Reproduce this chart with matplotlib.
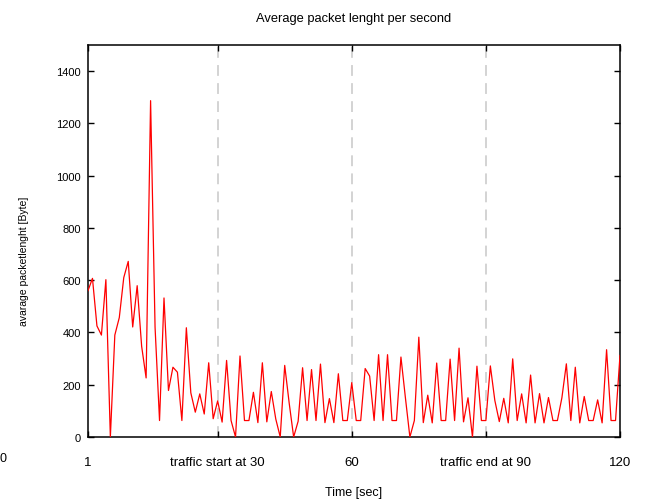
import matplotlib
matplotlib.use("Agg")
import matplotlib.pyplot as plt

plt.rcParams["font.family"] = ["Liberation Sans", "DejaVu Sans"]

# Seconds 1..120 and average packet length per second
seconds = list(range(1, 121))
avg_len = [
    560, 607, 425, 390, 602, 0, 390, 457, 610, 672,
    421, 579, 347, 226, 1287, 420, 63, 532, 178, 267,
    248, 63, 418, 169, 95, 165, 88, 284, 70, 138,
    57, 293, 63, 0, 310, 63, 63, 171, 55, 284,
    58, 174, 69, 0, 274, 130, 0, 60, 265, 63,
    258, 63, 279, 55, 147, 55, 242, 63, 63, 208,
    63, 63, 262, 233, 63, 315, 63, 315, 63, 63,
    306, 150, 0, 63, 382, 55, 160, 54, 283, 63,
    63, 298, 63, 340, 58, 150, 0, 271, 63, 63,
    272, 140, 59, 148, 54, 299, 63, 165, 54, 237,
    54, 166, 54, 151, 63, 63, 150, 280, 63, 267,
    54, 155, 63, 63, 142, 54, 334, 63, 63, 312,
]

x_ticks = [1, 30, 60, 90, 120]
x_tick_labels = ["1", "traffic start at 30", "60", "traffic end at 90", "120"]
y_ticks = [0, 200, 400, 600, 800, 1000, 1200, 1400]
markers = [30, 60, 90]

fig = plt.figure(figsize=(6.45, 5.02), dpi=100)
ax = fig.add_axes([88 / 645, 64 / 502, 532 / 645, 392 / 502])

for m in markers:
    ax.axvline(m, color="#d0d0d0", linewidth=1.3, dashes=(6, 4), zorder=1)

ax.plot(seconds, avg_len, color="red", linewidth=0.9, zorder=3)

ax.set_xlim(1, 120)
ax.set_ylim(0, 1500)
ax.set_xticks(x_ticks)
ax.set_xticklabels(x_tick_labels)
ax.set_yticks(y_ticks)

ax.tick_params(axis="both", direction="in", length=4, width=1,
               top=True, right=True)
ax.tick_params(axis="x", pad=14, labelsize=9.5)
ax.tick_params(axis="y", pad=5, labelsize=8)
for s in ax.spines.values():
    s.set_linewidth(1.1)

ax.set_xlabel("Time [sec]", fontsize=9, labelpad=13)
ax.set_ylabel("avarage packetlenght [Byte]", fontsize=7.5, labelpad=22)
ax.yaxis.set_label_coords(-0.11, 0.45)
ax.set_title("Average packet lenght per second", fontsize=9.25, pad=17)

# stray clipped label at the far left of the x axis
fig.text(0, 1 - 459 / 502, "0", fontsize=9, ha="left", va="center")

fig.savefig("out.png", dpi=100)
